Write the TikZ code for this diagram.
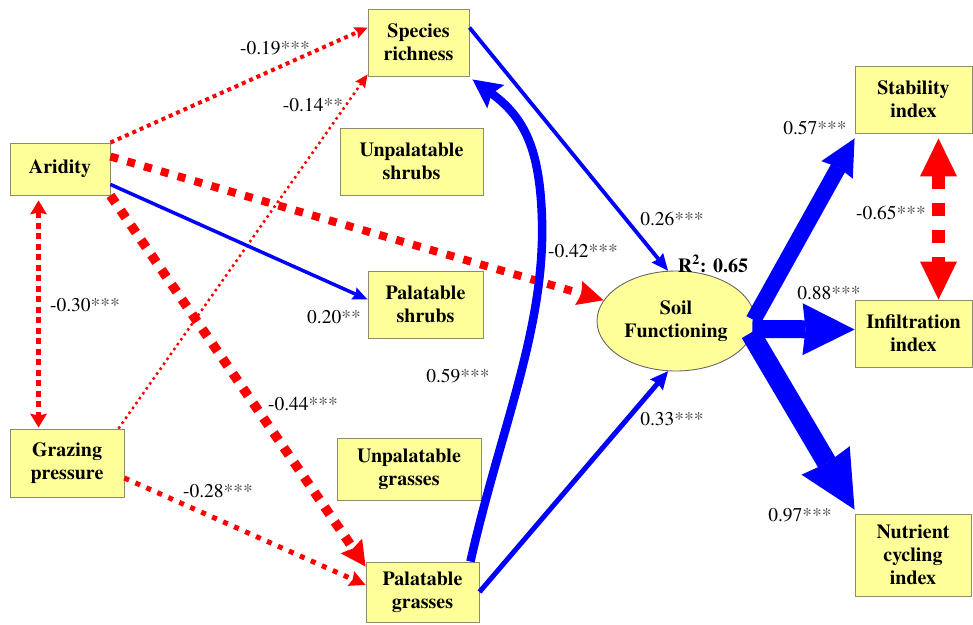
\documentclass[tikz,border=0pt]{standalone}
\usepackage{fontspec}
\setmainfont{texgyretermes}[Extension=.otf,UprightFont=*-regular,BoldFont=*-bold,ItalicFont=*-italic,BoldItalicFont=*-bolditalic]
\usetikzlibrary{arrows.meta,calc,shapes.geometric}
\definecolor{boxfill}{HTML}{FFFF99}
\definecolor{boxline}{HTML}{8C8C6A}
\definecolor{redc}{HTML}{FF0000}
\definecolor{bluec}{HTML}{0000FF}
\newcommand\stars[1]{\textcolor{black!70}{#1}}
\begin{document}
\begin{tikzpicture}[x=1pt,y=-1pt,
  box/.style={draw=boxline,fill=boxfill,line width=0.9pt,inner sep=0pt,align=center,
    font=\fontsize{20}{23}\selectfont\bfseries},
  lab/.style={font=\fontsize{19.5}{22}\selectfont,inner sep=0pt},
  redline/.style={draw=redc,line cap=butt},
  blueline/.style={draw=bluec},
]
\useasboundingbox (0,0) rectangle (973,624);

% nodes
\node[box,minimum width=100pt,minimum height=52pt] (arid) at (60,169) {Aridity};
\node[box,minimum width=101pt,minimum height=67pt] (spec) at (418.5,42.5) {Species\\richness};
\node[box,minimum width=143pt,minimum height=67pt] (ushr) at (411.5,161.5) {Unpalatable\\shrubs};
\node[box,minimum width=115pt,minimum height=67pt] (pshr) at (425.5,304.5) {Palatable\\shrubs};
\node[box,minimum width=114pt,minimum height=68pt] (graz) at (67,463) {Grazing\\pressure};
\node[box,minimum width=144pt,minimum height=62pt] (ugra) at (409,469) {Unpalatable\\grasses};
\node[box,minimum width=113pt,minimum height=60pt] (pgra) at (422.5,592) {Palatable\\grasses};
\node[box,minimum width=117pt,minimum height=67pt] (stab) at (913.5,99.5) {Stability\\index};
\node[box,minimum width=117pt,minimum height=67pt] (infl) at (913.5,333.5) {Infiltration\\index};
\node[box,minimum width=116pt,minimum height=82pt] (nutr) at (913,555) {Nutrient\\cycling\\index};
\node[box,ellipse,draw=black!60,minimum width=158pt,minimum height=100pt] (soil) at (676,321) {Soil\\Functioning};

% red paths
\draw[redline,line width=4pt,dash pattern=on 4pt off 4pt,
  -{Stealth[length=13pt,width=12pt,inset=2pt,line width=0pt]}]
  (arid.north east) -- ($(spec.north west)+(0,19)$);
\draw[redline,line width=2.5pt,dash pattern=on 2.5pt off 3.5pt,
  -{Stealth[length=13pt,width=12pt,inset=2pt,line width=0pt]}]
  ($(graz.north east)+(-6,0)$) -- ($(spec.south west)+(0,-2)$);
\draw[redline,line width=8pt,dash pattern=on 8pt off 9.5pt,
  -{Stealth[length=26pt,width=25pt,inset=3pt,line width=0pt]}]
  ($(arid.north east)+(0,14)$) -- (soil.164);
\draw[redline,line width=9.5pt,dash pattern=on 9pt off 9pt,
  -{Stealth[length=25pt,width=26pt,inset=3pt,line width=0pt]}]
  (arid.south east) -- ($(pgra.north west)+(0,5)$);
\draw[redline,line width=5pt,dash pattern=on 6pt off 4.5pt,
  {Stealth[length=14pt,width=17pt,inset=2pt,line width=0pt]}-{Stealth[length=14pt,width=17pt,inset=2pt,line width=0pt]}]
  ($(arid.south west)+(29,5)$) -- ($(graz.north west)+(29,-1)$);
\draw[redline,line width=5pt,dash pattern=on 5pt off 7pt,
  -{Stealth[length=16pt,width=16pt,inset=2pt,line width=0pt]}]
  ($(graz.east)+(0,15)$) -- ($(pgra.west)+(0,-7)$);
\draw[redline,line width=13pt,dash pattern=on 13pt off 14pt,
  {Triangle[length=38pt,width=37pt,line width=0pt]}-{Triangle[length=38pt,width=37pt,line width=0pt]}]
  ($(stab.south)+(25,5)$) -- ($(infl.north)+(25,0)$);

% blue paths
\draw[blueline,line width=3.5pt,-{Stealth[length=15pt,width=13pt,inset=2pt,line width=0pt]}]
  ($(arid.south east)+(0,-11)$) -- ($(pshr.west)+(0,-5)$);
\draw[blueline,line width=3.8pt,-{Stealth[length=17pt,width=15pt,inset=2pt,line width=0pt]}]
  ($(spec.north east)+(0,19)$) -- (soil.99);
\draw[blueline,line width=5pt,-{Stealth[length=18pt,width=17pt,inset=2pt,line width=0pt]}]
  (pgra.east) -- (soil.261);
\draw[blueline,line width=8.5pt,-{Stealth[length=29pt,width=29pt,inset=5pt,line width=0pt]}]
  ($(pgra.north east)+(-9,0)$) .. controls (500,430) and (545,330) .. (542,220)
  .. controls (540,150) and (525,118) .. ($(spec.south east)+(3,3)$);
\draw[blueline,line width=16pt,-{Stealth[length=36pt,width=36pt,inset=3pt,line width=0pt]}]
  ($(soil.east)+(-2,-1)$) -- ($(stab.south west)+(0,5)$);
\draw[blueline,line width=18pt,-{Stealth[length=52pt,width=52pt,inset=3pt,line width=0pt]}]
  ($(soil.east)+(-3,8)$) -- ($(infl.west)+(0,-4)$);
\draw[blueline,line width=20pt,-{Stealth[length=57pt,width=56pt,inset=3pt,line width=0pt]}]
  ($(soil.east)+(-5,12)$) -- ($(nutr.north west)+(0,-4)$);

% labels
\node[lab] (l19) at (275,48) {-0.19\stars{***}};
\node[lab] (l14) at (313,105) {-0.14\stars{**}};
\node[lab] (l30) at (85,305) {-0.30\stars{***}};
\node[lab] (l20) at (334,317) {0.20\stars{**}};
\node[lab] (l59) at (458,376) {0.59\stars{***}};
\node[lab] (l44) at (303,404) {-0.44\stars{***}};
\node[lab] (l28) at (218,491) {-0.28\stars{***}};
\node[lab] (l26) at (672,219) {0.26\stars{***}};
\node[lab] (l42) at (583,251) {-0.42\stars{***}};
\node[lab,font=\fontsize{20}{22}\selectfont\bfseries] (r2) at (713,264) {R\textsuperscript{2}: 0.65};
\node[lab] (l88) at (829,293) {0.88\stars{***}};
\node[lab] (l65) at (891,213) {-0.65\stars{***}};
\node[lab] (l57) at (815,128) {0.57\stars{***}};
\node[lab] (l33) at (672,419) {0.33\stars{***}};
\node[lab] (l97) at (800,515) {0.97\stars{***}};
\end{tikzpicture}
\end{document}
